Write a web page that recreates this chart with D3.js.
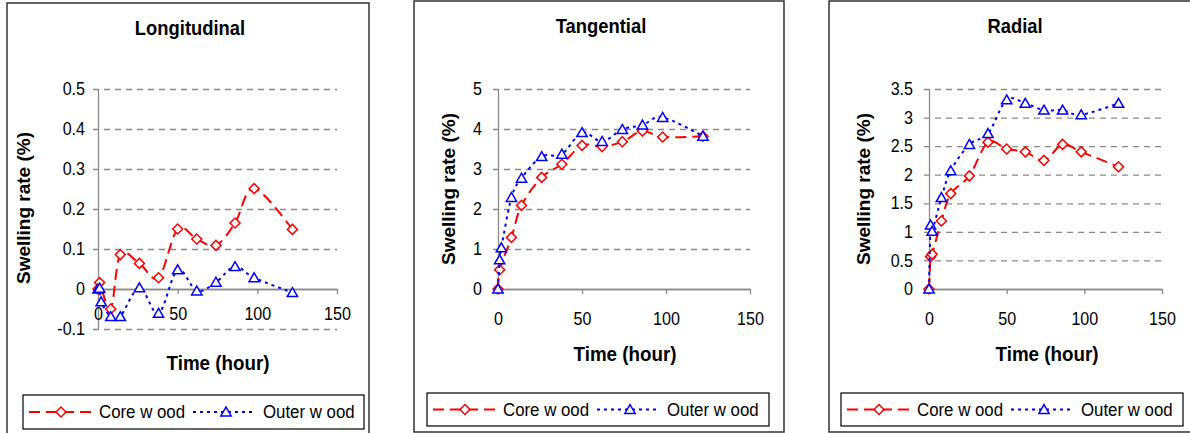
<!DOCTYPE html>
<html><head><meta charset="utf-8">
<script src="https://cdn.jsdelivr.net/npm/d3@7"></script>
<style>
body{margin:0;background:#fff}
svg{display:block}
text{font-family:"Liberation Sans",Arial,sans-serif}
</style>
</head><body>
<svg id="c" width="1190" height="433"></svg>
<script>
// ---- data ----
const hours = [0, 1, 2, 8, 14, 26, 38, 50, 62, 74, 86, 98, 122];
const longCore  = [0, 0.016, null, -0.05, 0.086, 0.064, 0.028, 0.15, 0.125, 0.109, 0.165, 0.251, 0.149];
const longOuter = [0, 0.002, -0.032, -0.069, -0.069, 0.003, -0.061, 0.048, -0.005, 0.017, 0.056, 0.028, -0.009];
const tanCore   = [0, 0.48, null, 1.29, 2.09, 2.79, 3.12, 3.59, 3.56, 3.68, 3.95, 3.8, 3.82];
const tanOuter  = [0, 0.73, 1.03, 2.29, 2.77, 3.31, 3.37, 3.91, 3.69, 3.99, 4.1, 4.29, 3.82];
const radCore   = [0, 0.565, 0.61, 1.19, 1.67, 1.98, 2.57, 2.45, 2.4, 2.25, 2.53, 2.4, 2.14];
const radOuter  = [0, 1.12, 1.01, 1.6, 2.07, 2.53, 2.72, 3.31, 3.25, 3.13, 3.13, 3.05, 3.25];
const titles = ["Longitudinal", "Tangential", "Radial"];
const xTicks = [0, 50, 100, 150];
const longTicks = [-0.1, 0, 0.1, 0.2, 0.3, 0.4, 0.5];
const tanTicks = [0, 1, 2, 3, 4, 5];
const radTicks = [0, 0.5, 1, 1.5, 2, 2.5, 3, 3.5];
const seriesNames = ["Core w ood", "Outer w ood"];
const yLabelText = "Swelling rate (%)";
const xLabelText = "Time (hour)";

// ---- layout ----
const panels = [
  {title: titles[0], core: longCore, outer: longOuter, ticks: longTicks,
   frame: [7, 3, 362, 445], x: [98, 337], y: [329, 89], tickLabY: 314, yPad: 13,
   yLab: [23, 208], titleXY: [190, 28], xLab: [218, 363], legend: [23, 395, 341, 34]},
  {title: titles[1], core: tanCore, outer: tanOuter, ticks: tanTicks,
   frame: [414, 1, 370, 431], x: [498, 750], y: [289, 89], tickLabY: 319, yPad: 16,
   yLab: [448, 189], titleXY: [601, 26], xLab: [625, 354], legend: [427, 393, 342, 33]},
  {title: titles[2], core: radCore, outer: radOuter, ticks: radTicks,
   frame: [829, 1, 372, 431], x: [929, 1162], y: [289, 89], tickLabY: 319, yPad: 16,
   yLab: [863, 189], titleXY: [1015, 26], xLab: [1047, 354], legend: [841, 393, 342, 33]}
];

const FONT = '"Liberation Sans", Arial, sans-serif';
const AXIS = "#8a8a8a";
const RED = "#ff0000", BLUE = "#0000ff";
const diamond = d3.symbol(d3.symbolSquare, 50);
const triangle = d3.symbol(d3.symbolTriangle, 46);

const svg = d3.select("#c");

// narrow text horizontally (reference glyphs are slightly condensed)
function squeeze(sel, sx) {
  sel.each(function () {
    const t = d3.select(this);
    const x = +t.attr("x") || 0, y = +t.attr("y") || 0;
    t.attr("x", 0).attr("y", 0).attr("transform", `translate(${x},${y}) scale(${sx},1)`);
  });
}

function drawMarker(sel, kind, cx, cy) {
  if (kind === "core") {
    sel.append("path").attr("d", diamond())
      .attr("transform", `translate(${cx},${cy}) rotate(45)`)
      .attr("fill", "#fff").attr("stroke", RED).attr("stroke-width", 1.5);
  } else {
    sel.append("path").attr("d", triangle())
      .attr("transform", `translate(${cx},${cy + 1})`)
      .attr("fill", "#fff").attr("stroke", BLUE).attr("stroke-width", 1.5);
  }
}

panels.forEach(p => {
  const g = svg.append("g");
  g.append("rect").attr("x", p.frame[0]).attr("y", p.frame[1])
    .attr("width", p.frame[2]).attr("height", p.frame[3])
    .attr("fill", "#fff").attr("stroke", "#333").attr("stroke-width", 1.5);

  const x = d3.scaleLinear().domain([0, 150]).range(p.x);
  const y = d3.scaleLinear().domain([p.ticks[0], p.ticks[p.ticks.length - 1]]).range(p.y);

  // gridlines
  const grid = g.append("g").attr("transform", `translate(${p.x[0] - 5},0)`)
    .call(d3.axisRight(y).tickValues(p.ticks).tickSize(p.x[1] - p.x[0] + 5).tickFormat(""));
  grid.select(".domain").remove();
  grid.selectAll("line").attr("stroke", AXIS).attr("stroke-width", 1.3)
    .attr("stroke-dasharray", d => d === 0 ? null : "6,5");

  // y axis
  const ya = g.append("g").attr("transform", `translate(${p.x[0]},0)`)
    .call(d3.axisLeft(y).tickValues(p.ticks).tickSize(0).tickSizeOuter(0)
      .tickPadding(p.yPad).tickFormat(d => String(d)));
  ya.attr("font-family", FONT).attr("font-size", 17.5);
  ya.select(".domain").attr("stroke", AXIS).attr("stroke-width", 1.3);
  ya.selectAll("text").attr("fill", "#000").call(squeeze, 0.92);

  // x axis
  const xa = g.append("g").attr("transform", `translate(0,${y(0)})`)
    .call(d3.axisBottom(x).tickValues(xTicks).tickSize(5).tickSizeOuter(0));
  xa.attr("font-family", FONT).attr("font-size", 17.5);
  xa.select(".domain").attr("stroke", AXIS).attr("stroke-width", 1.3);
  xa.selectAll("line").attr("stroke", AXIS).attr("stroke-width", 1.3);
  xa.selectAll("text").attr("fill", "#000").attr("y", p.tickLabY - y(0)).attr("dy", "0.35em")
    .call(squeeze, 0.92);

  // labels
  g.append("text").attr("x", p.titleXY[0]).attr("y", p.titleXY[1]).attr("dy", "0.35em")
    .attr("text-anchor", "middle").attr("font-weight", "bold").attr("font-size", 20)
    .text(p.title).call(squeeze, 0.92);
  g.append("text").attr("transform", `translate(${p.yLab[0]},${p.yLab[1]}) rotate(-90)`)
    .attr("dy", "0.35em").attr("text-anchor", "middle").attr("font-weight", "bold")
    .attr("font-size", 19).text(yLabelText);
  g.append("text").attr("x", p.xLab[0]).attr("y", p.xLab[1]).attr("dy", "0.35em")
    .attr("text-anchor", "middle").attr("font-weight", "bold").attr("font-size", 20)
    .text(xLabelText).call(squeeze, 0.94);

  // series
  const line = d3.line().x(d => x(d[0])).y(d => y(d[1])).curve(d3.curveCardinal.tension(0));
  [["core", p.core, RED, "11,6"], ["outer", p.outer, BLUE, "3,4"]].forEach(([kind, vals, col, dash]) => {
    const pts = hours.map((h, i) => [h, vals[i]]).filter(d => d[1] != null);
    g.append("path").attr("d", line(pts)).attr("fill", "none")
      .attr("stroke", col).attr("stroke-width", 2).attr("stroke-dasharray", dash);
    const mg = g.append("g");
    pts.forEach(d => drawMarker(mg, kind, x(d[0]), y(d[1])));
  });

  // legend
  const [bx, by, bw, bh] = p.legend;
  const cy = by + bh / 2;
  g.append("rect").attr("x", bx).attr("y", by).attr("width", bw).attr("height", bh)
    .attr("fill", "#fff").attr("stroke", "#000").attr("stroke-width", 1.2);
  g.append("line").attr("x1", bx + 6).attr("x2", bx + 70).attr("y1", cy).attr("y2", cy)
    .attr("stroke", RED).attr("stroke-width", 2).attr("stroke-dasharray", "11,6");
  drawMarker(g, "core", bx + 38, cy);
  g.append("text").attr("x", bx + 76).attr("y", cy).attr("dy", "0.35em")
    .attr("font-size", 18.5).text(seriesNames[0]).call(squeeze, 0.91);
  g.append("line").attr("x1", bx + 170).attr("x2", bx + 232).attr("y1", cy).attr("y2", cy)
    .attr("stroke", BLUE).attr("stroke-width", 2).attr("stroke-dasharray", "3,4");
  drawMarker(g, "outer", bx + 203, cy);
  g.append("text").attr("x", bx + 240).attr("y", cy).attr("dy", "0.35em")
    .attr("font-size", 18.5).text(seriesNames[1]).call(squeeze, 0.91);
});
</script>
</body></html>
